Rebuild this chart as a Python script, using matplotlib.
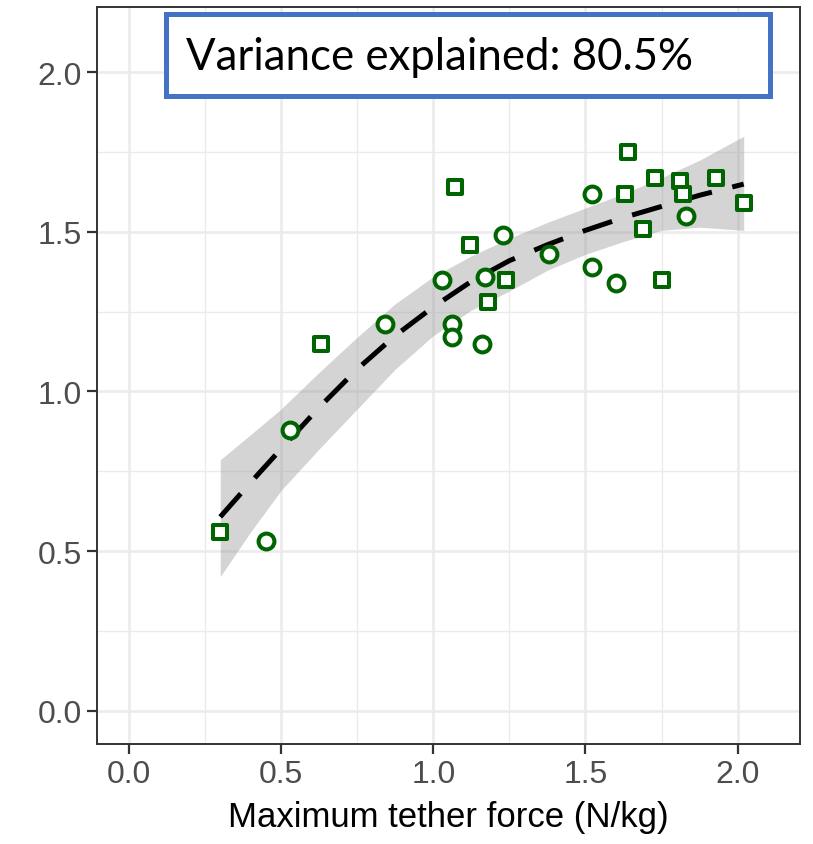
import numpy as np
import matplotlib
matplotlib.use('agg')
import matplotlib.pyplot as plt
from matplotlib.patches import Rectangle

# < -- Data

sq_x = [0.30, 0.63, 1.07, 1.12, 1.18, 1.24, 1.64, 1.63, 1.73, 1.69, 1.75, 1.81, 1.82, 1.93, 2.02]
sq_y = [0.56, 1.15, 1.64, 1.46, 1.28, 1.35, 1.75, 1.62, 1.67, 1.51, 1.35, 1.66, 1.62, 1.67, 1.59]

ci_x = [0.45, 0.53, 0.84, 1.03, 1.06, 1.06, 1.16, 1.17, 1.23, 1.38, 1.52, 1.52, 1.60, 1.83]
ci_y = [0.53, 0.88, 1.21, 1.35, 1.21, 1.17, 1.15, 1.36, 1.49, 1.43, 1.62, 1.39, 1.34, 1.55]

# smooth line and its confidence band
fit_x = [0.30, 0.40, 0.50, 0.625, 0.75, 0.875, 1.00, 1.125, 1.25, 1.375, 1.50, 1.625, 1.75, 1.875, 2.02]
fit_y = [0.607, 0.715, 0.82, 0.95, 1.07, 1.175, 1.265, 1.345, 1.41, 1.46, 1.505, 1.545, 1.58, 1.615, 1.65]
fit_lo = [0.42, 0.56, 0.69, 0.82, 0.945, 1.07, 1.175, 1.255, 1.315, 1.38, 1.43, 1.47, 1.505, 1.515, 1.505]
fit_hi = [0.786, 0.865, 0.945, 1.06, 1.17, 1.275, 1.36, 1.425, 1.48, 1.53, 1.575, 1.62, 1.67, 1.725, 1.80]

ticks = [0.0, 0.5, 1.0, 1.5, 2.0]
label_text = 'Variance explained: 80.5%'
xlabel = 'Maximum tether force (N/kg)'

# < -- Plot

fig = plt.figure(figsize=(8.13, 8.45), dpi=100)
ax = fig.add_axes([0.1193, 0.1183, 0.8647, 0.8722])

green = '#006400'
ax.fill_between(fit_x, fit_lo, fit_hi, color='#999999', alpha=0.42, lw=0, zorder=2)
ax.plot(fit_x, fit_y, color='black', lw=3.6, ls=(0, (6.2, 4.2)), zorder=3)
ax.scatter(sq_x, sq_y, marker='s', s=105, facecolors='white', edgecolors=green, linewidths=2.9, zorder=4)
ax.scatter(ci_x, ci_y, marker='o', s=130, facecolors='white', edgecolors=green, linewidths=2.9, zorder=4)

ax.set_xlim(-0.105, 2.205)
ax.set_ylim(-0.105, 2.205)
ax.set_xticks(ticks)
ax.set_yticks(ticks)
ax.set_xticks([0.25, 0.75, 1.25, 1.75], minor=True)
ax.set_yticks([0.25, 0.75, 1.25, 1.75], minor=True)
ax.set_xticklabels([f'{v:.1f}' for v in ticks])
ax.set_yticklabels([f'{v:.1f}' for v in ticks])
ax.grid(True, which='major', color='#EBEBEB', lw=1.8, zorder=0)
ax.grid(True, which='minor', color='#EBEBEB', lw=1.0, zorder=0)
ax.set_axisbelow(True)
ax.tick_params(which='major', length=7, width=1.6, color='#333333',
               labelsize=23, labelcolor='#4D4D4D', pad=4)
ax.tick_params(which='minor', length=0)
for s in ax.spines.values():
    s.set_color('#333333')
    s.set_linewidth(1.4)
ax.set_xlabel(xlabel, fontsize=25, family='Liberation Sans', labelpad=8)
for lab in ax.get_xticklabels() + ax.get_yticklabels():
    lab.set_family('Liberation Sans')

# < -- Annotation box

fig.patches.append(Rectangle((166 / 813, 1 - 97 / 845), 604 / 813, 82 / 845,
                             transform=fig.transFigure, facecolor='white',
                             edgecolor='#4472C4', lw=3.6, zorder=5))
fig.text(186 / 813, 1 - 58 / 845, label_text, fontsize=31.5, family='Lato',
         va='center', ha='left', zorder=6)

fig.savefig('out.png', dpi=100)
